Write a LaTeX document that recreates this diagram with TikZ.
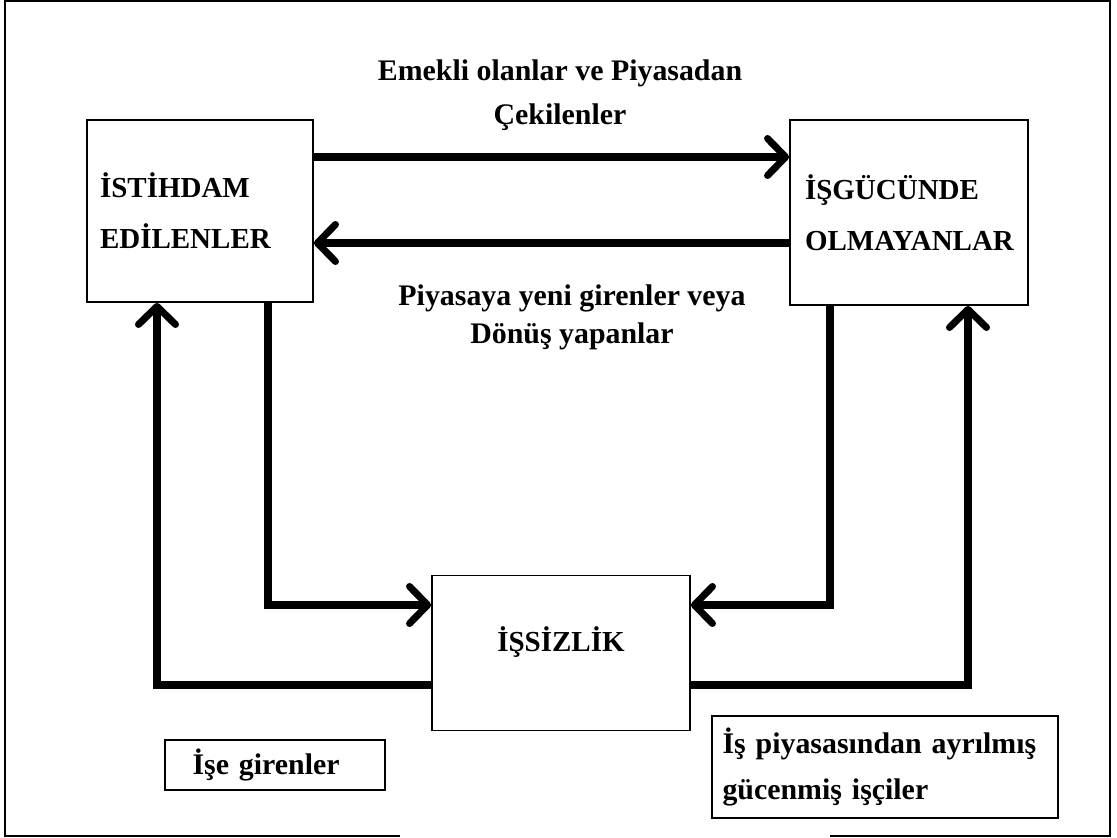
\documentclass[tikz,border=0pt]{standalone}
\usepackage{fontspec}
\setmainfont{Liberation Serif}
\usetikzlibrary{arrows.meta}

\begin{document}
\begin{tikzpicture}[x=0.02cm,y=-0.02cm][>=latex]
	\tikzstyle{every node}=[font=\fontsize{16.5}{29}\selectfont\bfseries]
	\tikzstyle{box}=[draw, line width=1.1pt, inner sep=0pt]
	\tikzstyle{flow}=[line width=4pt, -{Straight Barb[length=0.36cm,width=0.74cm,round]}]
	\tikzstyle{lbl}=[align=center, font=\fontsize{17}{25}\selectfont\bfseries]
	
	\useasboundingbox (0,0) rectangle (1117,838);
	
	% outer frame, open at the bottom
	\draw[line width=1.1pt] (400,836) -| (5,1) -| (1110,836) -- (830,836);
	
	% the three states
	\node[box, minimum width=4.52cm, minimum height=3.64cm, text width=4.0cm, align=left] (emp) at (200,211) {İSTİHDAM\\EDİLENLER};
	\node[box, minimum width=4.76cm, minimum height=3.7cm, text width=4.16cm, align=left] (nilf) at (909,212.5) {İŞGÜCÜNDE\\OLMAYANLAR};
	\node[box, minimum width=5.16cm, minimum height=3.1cm] (unemp) at (561,653) {\raisebox{0.22cm}[\height][\depth]{İŞSİZLİK}};
	
	% legend boxes
	\node[box, minimum width=4.4cm, minimum height=1.0cm, text width=3.3cm, align=left, font=\fontsize{17}{25}\selectfont\bfseries] (enter) at (275,765) {İşe girenler};
	\node[box, minimum width=6.92cm, minimum height=2.04cm, text width=6.5cm, align=left, font=\fontsize{17}{26}\selectfont\bfseries] (leave) at (885,767) {İş piyasasından ayrılmış\\gücenmiş işçiler};
	
	% flow labels
	\node[lbl] (retire) at (560,95) {Emekli olanlar ve Piyasadan\\Çekilenler};
	\node[lbl, font=\fontsize{17}{21.5}\selectfont\bfseries] (return) at (572,317) {Piyasaya yeni girenler veya\\Dönüş yapanlar};
	
	% bends of the connectors
	\coordinate (up) at (0,157);
	\coordinate (down) at (0,243);
	\coordinate (li) at (268,605);
	\coordinate (lo) at (157,685);
	\coordinate (ri) at (830,605);
	\coordinate (ro) at (968,685);
	
	\draw[flow] (emp.east |- up) -- (nilf.west |- up);
	\draw[flow] (nilf.west |- down) -- (emp.east |- down);
	\draw[flow] (emp.south -| li) -- (li) -- (unemp.west |- li);
	\draw[flow] (unemp.west |- lo) -- (lo) -- (emp.south -| lo);
	\draw[flow] (nilf.south -| ri) -- (ri) -- (unemp.east |- ri);
	\draw[flow] (unemp.east |- ro) -- (ro) -- (nilf.south -| ro);
	
\end{tikzpicture}
\end{document}
